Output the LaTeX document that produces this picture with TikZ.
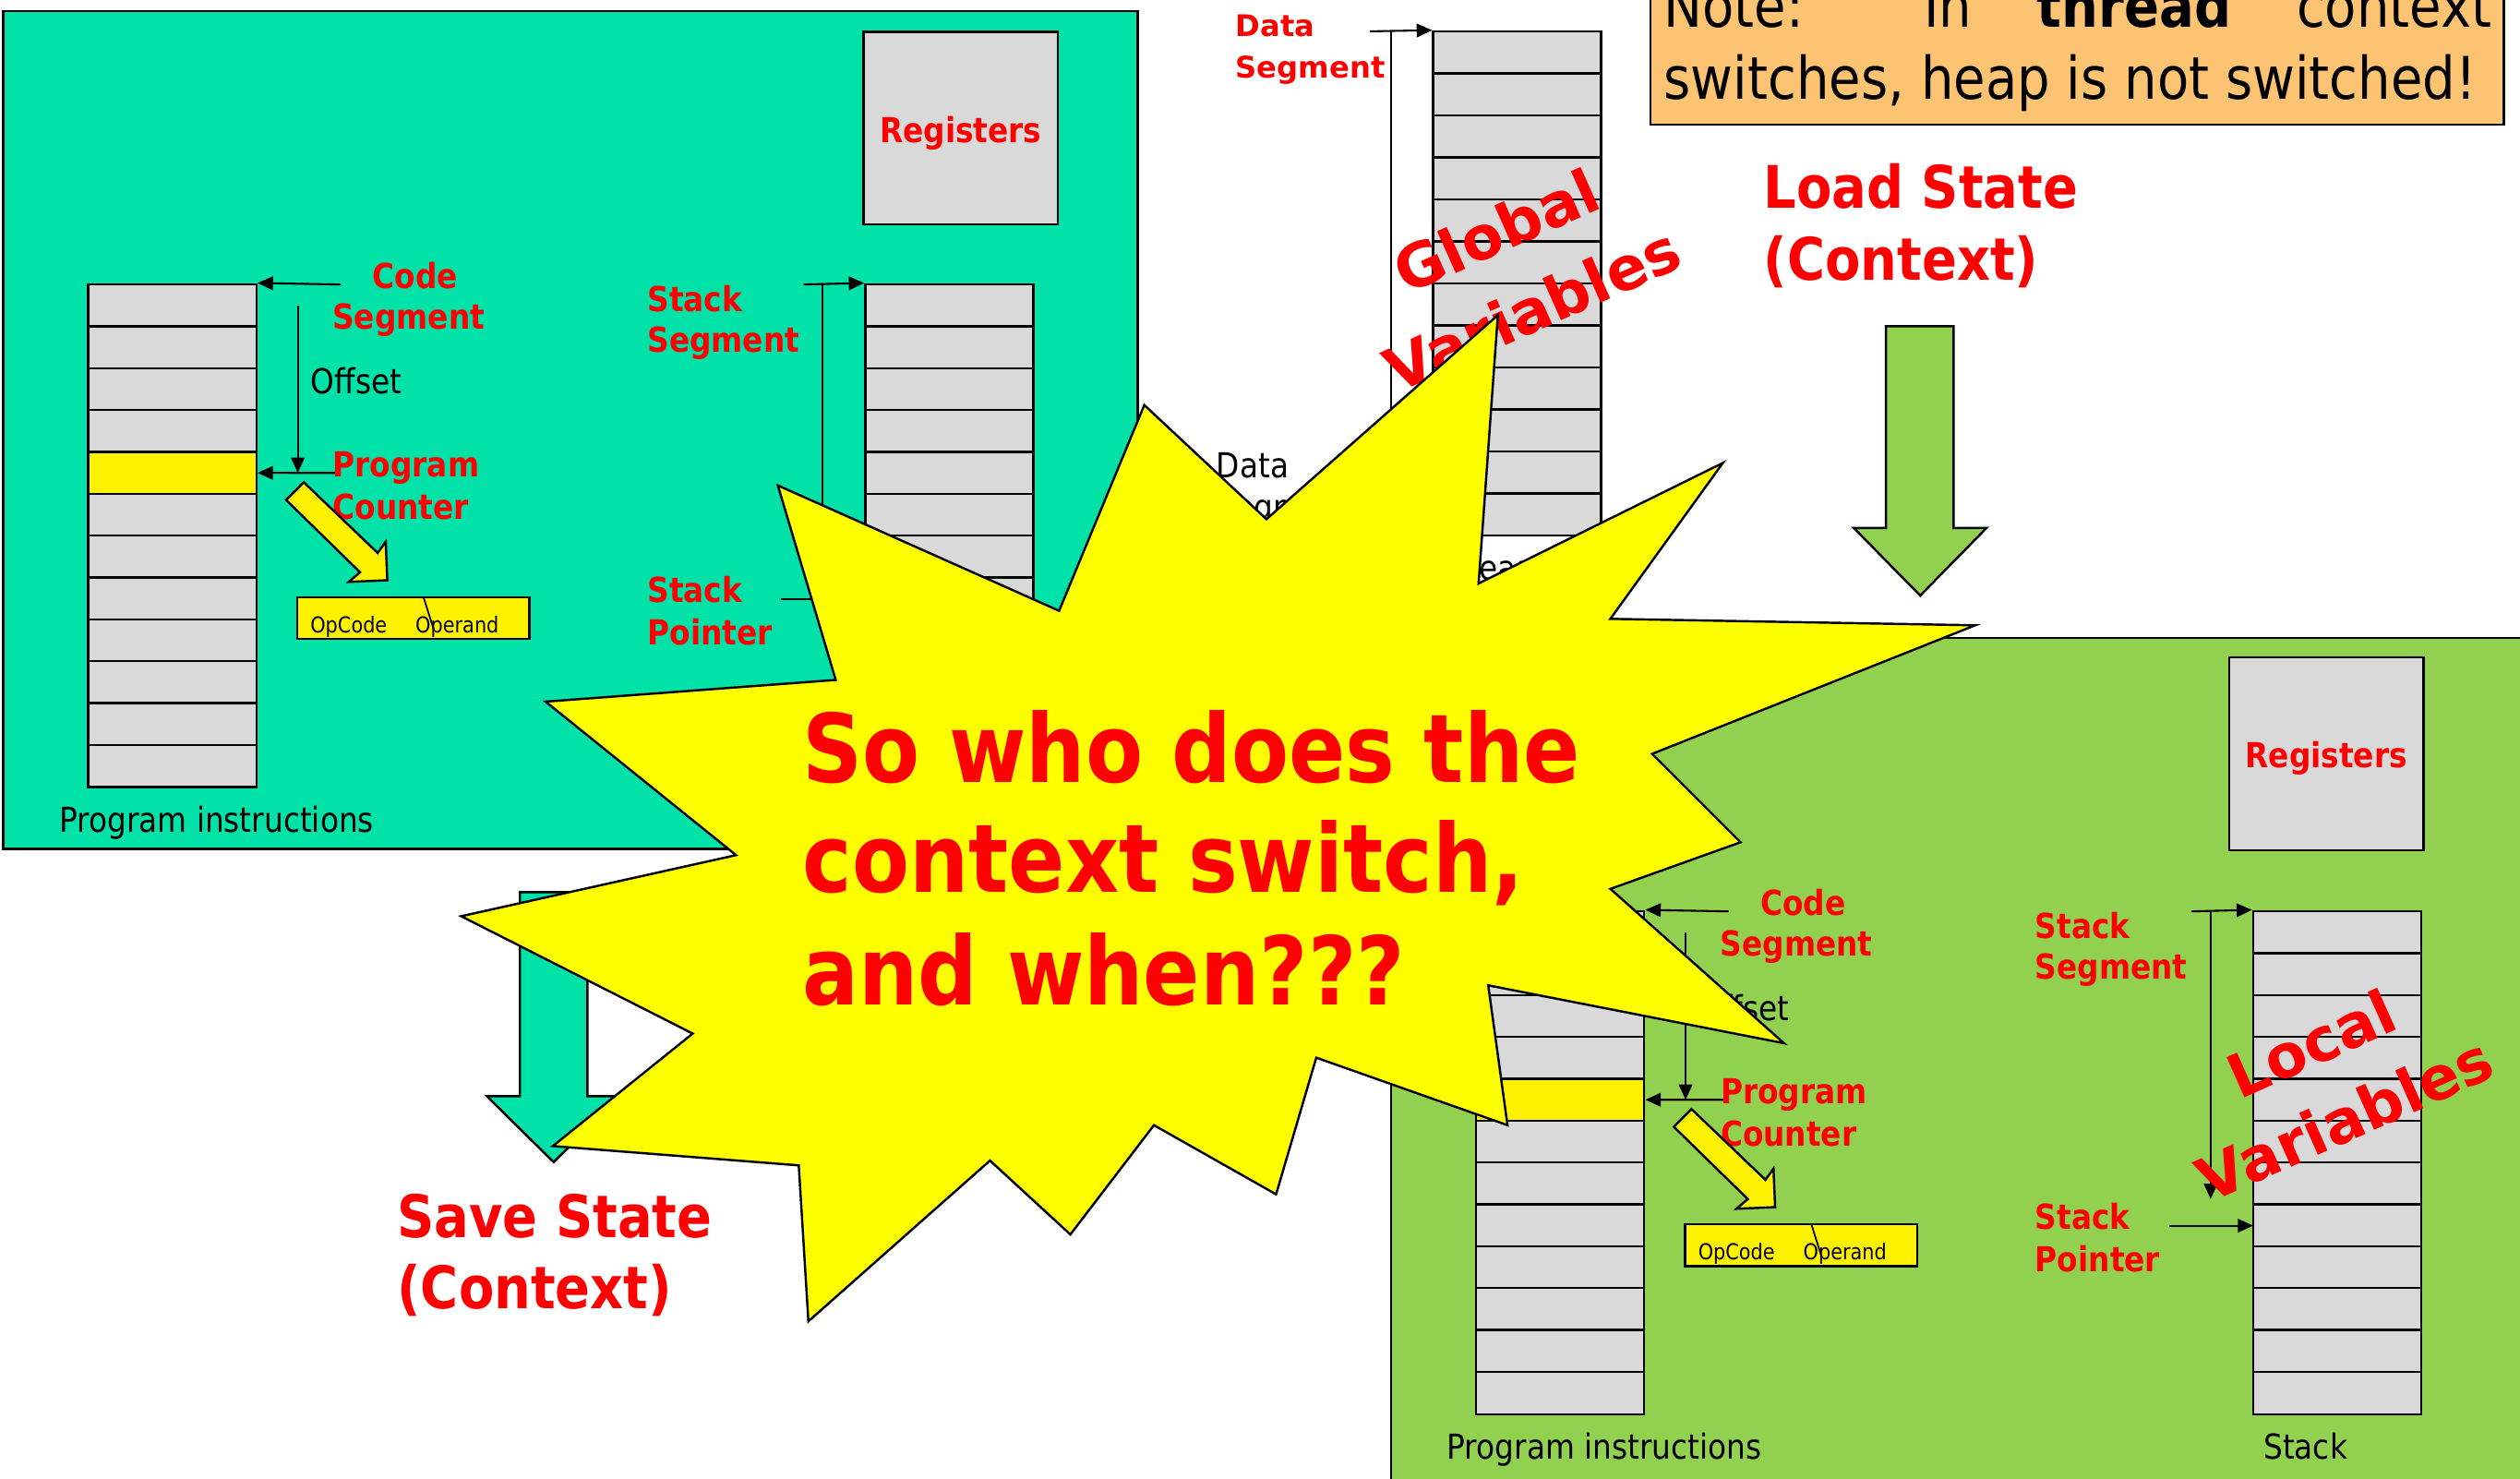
\documentclass[tikz,border=0pt]{standalone}
\usepackage{fontspec}
\usetikzlibrary{arrows.meta}

% Tahoma-like narrow face and Verdana-like wide face
\newfontfamily\tah{DejaVu Sans}[FakeStretch=0.88]
\newfontfamily\verd{DejaVu Sans}

\definecolor{tealc}{RGB}{0,226,168}
\definecolor{greenc}{RGB}{146,208,80}
\definecolor{cellgray}{RGB}{217,217,217}
\definecolor{noteorange}{RGB}{252,196,114}
\definecolor{labred}{RGB}{255,0,0}
\definecolor{burst}{RGB}{255,255,0}

\tikzset{
  outline/.style={draw=black, line width=0.7pt},
  memcol/.style={outline, fill=cellgray, inner sep=0pt, minimum width=52.3pt, minimum height=156.5pt},
  rowline/.style={line width=0.7pt},
  ptr/.style={line width=0.6pt, -{Triangle[length=4.8pt,width=4.2pt]}},
  lbl/.style={inner sep=0pt, text=labred, anchor=base west, font=\tah\bfseries\fontsize{10.7}{12}\selectfont},
  clbl/.style={lbl, anchor=base},
  txt/.style={inner sep=0pt, anchor=base west, font=\tah\fontsize{10.7}{12}\selectfont},
  opfont/.style={inner sep=0pt, anchor=base, font=\tah\fontsize{6.8}{8}\selectfont},
  biglbl/.style={inner sep=0pt, text=labred, anchor=base west, font=\tah\bfseries\fontsize{18.25}{20}\selectfont},
  varlbl/.style={inner sep=0pt, text=labred, rotate=24, font=\verd\bfseries\fontsize{18.75}{20}\selectfont},
  seglbl/.style={inner sep=0pt, text=labred, anchor=base west, font=\verd\bfseries\fontsize{9.25}{11}\selectfont},
  notefont/.style={inner sep=0pt, anchor=base west, font=\tah\fontsize{18.3}{20}\selectfont},
  burstfont/.style={inner sep=0pt, text=labred, anchor=base west, font=\tah\bfseries\fontsize{29.5}{32}\selectfont},
  regbox/.style={outline, fill=cellgray, inner sep=0pt, minimum width=60.4pt, minimum height=59.9pt},
  yblock/.style={outline, fill=yellow, line join=miter},
  bigarrow/.style={outline, line join=miter},
}

% One process panel: code column, stack column, pointers and captions.
% #1 = name prefix, #2 = fill colour, #3 = shift, #4 = bottom edge of the panel
\newcommand\drawpanel[4]{%
\begin{scope}[shift={#3}]
  \draw[outline, fill=#2] (2,7) rectangle (708,#4);
  % program instructions column
  \node[memcol] (#1-prog) at (107.25,333.25) {};
  \foreach \k in {1,...,11} \draw[rowline] (55,{177+26.04*\k}) -- (159.5,{177+26.04*\k});
  \node[memcol, fill=yellow, minimum height=13.02pt] (#1-pc) at (107.25,{177+26.04*4.5}) {};
  % stack column
  \node[memcol] (#1-stack) at (590.75,333.25) {};
  \foreach \k in {1,...,11} \draw[rowline] (538.5,{177+26.04*\k}) -- (643,{177+26.04*\k});
  % code segment pointer
  \coordinate (#1-csfrom) at (212,177);
  \draw[ptr] (#1-csfrom) -- (#1-prog.north east);
  \node[clbl] (#1-cs1) at (258.5,179.5) {Code};
  \node[clbl] (#1-cs2) at (254.3,205) {Segment};
  % offset
  \coordinate (#1-offfrom) at (185.3,190);
  \coordinate (#1-offto) at (185.3,294.2);
  \draw[ptr] (#1-offfrom) -- (#1-offto);
  \node[txt] (#1-off) at (193,245) {Offset};
  % program counter
  \coordinate (#1-pcfrom) at (212,294.2);
  \draw[ptr] (#1-pcfrom) -- (#1-pc.east);
  \node[lbl] (#1-pcl1) at (206.7,296.7) {Program};
  \node[lbl] (#1-pcl2) at (206.7,323) {Counter};
  % fetch arrow towards the instruction register
  \draw[yblock] (178,311) -- (189,300) -- (235,344) -- (240,337) -- (241,361) -- (217,362) -- (224,356) -- cycle;
  \node[outline, fill=yellow, inner sep=0pt, minimum width=72.2pt, minimum height=13pt] (#1-op) at (257.1,384.6) {};
  \draw[line width=0.5pt] (263.5,371.5) -- (270,392);
  \node[opfont] (#1-opc) at (217,393.5) {OpCode};
  \node[opfont] (#1-opd) at (284.5,393.5) {Operand};
  % stack segment pointer
  \node[lbl] (#1-ss1) at (402.5,194) {Stack};
  \node[lbl] (#1-ss2) at (402.5,219) {Segment};
  \coordinate (#1-ssfrom) at (500,177);
  \draw[ptr] (#1-ssfrom) -- (#1-stack.north west);
  \coordinate (#1-sstop) at (512,177);
  \coordinate (#1-ssbot) at (512,356);
  \draw[ptr] (#1-sstop) -- (#1-ssbot);
  % stack pointer
  \node[lbl] (#1-sp1) at (402.5,375) {Stack};
  \node[lbl] (#1-sp2) at (402.5,401) {Pointer};
  \coordinate (#1-spfrom) at (486,372.5);
  \coordinate (#1-spto) at (538.5,372.5);
  \draw[ptr] (#1-spfrom) -- (#1-spto);
  % captions
  \node[txt] (#1-progcap) at (36.5,518) {Program instructions};
  \node[txt, anchor=base] (#1-stackcap) at (571,518) {Stack};
\end{scope}}

\begin{document}
\begin{tikzpicture}[x=0.5pt,y=-0.5pt]
\useasboundingbox (0,0) rectangle (1568,920);
\clip (0,0) rectangle (1568,920);
\fill[white] (0,0) rectangle (1568,920);

% ---- first process (being saved) ----
\drawpanel{t}{tealc}{(0,0)}{528}
\node[regbox] (t-regs) at (597.8,79.6) {};
\node[clbl] (t-regslbl) at (597.8,89) {Registers};

% save-state arrow
\draw[bigarrow, fill=tealc] (323.5,555) -- (365.5,555) -- (365.5,682) -- (386,682) -- (344.5,723)
  -- (303,682) -- (323.5,682) -- cycle;
\node[biglbl] (save1) at (246.8,770) {Save State};
\node[biglbl] (save2) at (246.8,814) {(Context)};

% ---- shared data segment ----
\node[memcol, minimum width=52.2pt, minimum height=156.75pt] (datacol) at (944,176.25) {};
\foreach \k in {1,...,11} \draw[rowline] (891.8,{19.5+26.125*\k}) -- (996.2,{19.5+26.125*\k});
\coordinate (dsfrom) at (852.2,19.5);
\draw[ptr] (dsfrom) -- (datacol.north west);
\coordinate (dstop) at (865.4,19.5);
\coordinate (dsbot) at (865.4,330);
\draw[line width=0.6pt] (dstop) -- (dsbot);
\node[seglbl] (ds1) at (768.5,22.5) {Data};
\node[seglbl] (ds2) at (768.5,48.7) {Segment};
\node[txt] (dblk1) at (756.5,297) {Data};
\node[txt] (dblk2) at (756.5,323) {Segment};
\node[txt] (heap) at (906,361) {Heap};
\node[varlbl] (glob1) at (931,143.6) {Global};
\node[varlbl] (glob2) at (953.3,192.3) {Variables};

% ---- note ----
\draw[outline, fill=noteorange] (1027,-12) rectangle (1558,77.5);
\node[notefont] (note1) at (1035,17) {\makebox[257.5pt][s]{Note: In \textbf{thread} context}};
\node[notefont] (note2) at (1035,61.5) {switches, heap is not switched!};

% load-state arrow
\node[biglbl] (load1) at (1097,129.5) {Load State};
\node[biglbl] (load2) at (1097,174.4) {(Context)};
\draw[bigarrow, fill=greenc] (1173.5,203) -- (1215.5,203) -- (1215.5,328.5) -- (1236,328.5) -- (1194.8,370.5)
  -- (1153.5,328.5) -- (1173.5,328.5) -- cycle;

% ---- second process (being loaded) ----
\drawpanel{g}{greenc}{(863.5,390)}{545}
\node[regbox] (g-regs) at (1447.5,469) {};
\node[clbl] (g-regslbl) at (1447.5,477.5) {Registers};
\node[varlbl] (loc1) at (1438,649) {Local};
\node[varlbl] (loc2) at (1459,696) {Variables};

% ---- question burst ----
\draw[outline, fill=burst, line join=miter]
  (712,252) -- (788,323) -- (932,196) -- (920,363) -- (1072,288) -- (1002,385) -- (1229,389)
  -- (1028,469) -- (1083,524) -- (1002,553) -- (1110,649) -- (926,613) -- (938,700) -- (819,658)
  -- (794,743) -- (718,700) -- (666,768) -- (616,722) -- (503,822) -- (497,725) -- (344,713)
  -- (431,643) -- (287,570) -- (458,532) -- (339.5,436.5) -- (520,423) -- (484,302) -- (659,380) -- cycle;
\node[burstfont] (q1) at (499,487) {So who does the};
\node[burstfont] (q2) at (499,555) {context switch,};
\node[burstfont] (q3) at (499,625) {and when???};
\end{tikzpicture}
\end{document}
